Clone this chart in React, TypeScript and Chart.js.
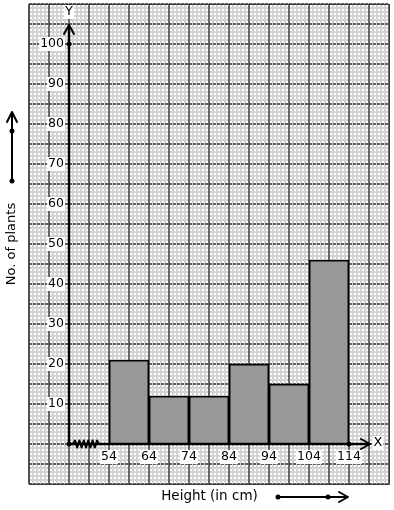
import React, { useEffect, useRef } from "react";
import { Chart, registerables } from "chart.js";

Chart.register(...registerables);

// Class intervals (cm) and frequencies (no. of plants)
const classStarts = [54, 64, 74, 84, 94, 104];
const classWidth = 10;
const frequencies = [21, 12, 12, 20, 15, 46];
const xTickLabels = [54, 64, 74, 84, 94, 104, 114];
const yTickLabels = [10, 20, 30, 40, 50, 60, 70, 80, 90, 100];
const xTitle = "Height (in cm)";
const yTitle = "No. of plants";

const FONT = "DejaVu Sans, sans-serif";

const paperPlugin = {
  id: "paper",
  beforeDraw(chart: any) {
    const ctx = chart.ctx;
    const { left, right, top, bottom } = chart.chartArea;
    ctx.save();
    ctx.fillStyle = "#ffffff";
    ctx.fillRect(0, 0, chart.width, chart.height);
    // minor grid
    ctx.fillStyle = "#d2d2d2";
    for (let x = left; x <= right + 0.1; x += 4) {
      ctx.fillRect(Math.round(x) - 1, top, 2, bottom - top);
    }
    for (let y = top; y <= bottom + 0.1; y += 4) {
      ctx.fillRect(left, Math.round(y) - 1, right - left, 2);
    }
    // major vertical lines (solid)
    ctx.strokeStyle = "#3a3a3a";
    ctx.lineWidth = 1.4;
    for (let x = left; x <= right + 0.1; x += 20) {
      ctx.beginPath();
      ctx.moveTo(Math.round(x), top);
      ctx.lineTo(Math.round(x), bottom);
      ctx.stroke();
    }
    // major horizontal lines (dashed)
    ctx.setLineDash([3, 1]);
    for (let y = top; y <= bottom + 0.1; y += 20) {
      ctx.beginPath();
      ctx.moveTo(left, Math.round(y));
      ctx.lineTo(right, Math.round(y));
      ctx.stroke();
    }
    ctx.setLineDash([]);
    ctx.restore();
  },
  afterDatasetsDraw(chart: any) {
    const ctx = chart.ctx;
    const xs = chart.scales.x;
    const ys = chart.scales.y;
    const ox = xs.getPixelForValue(44);
    const oy = ys.getPixelForValue(0);
    ctx.save();
    ctx.strokeStyle = "#000";
    ctx.fillStyle = "#000";
    ctx.lineCap = "round";
    ctx.lineJoin = "round";
    // Y axis
    ctx.lineWidth = 2.5;
    ctx.beginPath();
    ctx.moveTo(ox, oy);
    ctx.lineTo(ox, 26);
    ctx.stroke();
    ctx.lineWidth = 2;
    ctx.beginPath();
    ctx.moveTo(ox - 5, 34);
    ctx.lineTo(ox, 25);
    ctx.lineTo(ox + 5, 34);
    ctx.stroke();
    // X axis
    ctx.lineWidth = 2.5;
    ctx.beginPath();
    ctx.moveTo(ox, oy);
    ctx.lineTo(369, oy);
    ctx.stroke();
    ctx.lineWidth = 2;
    ctx.beginPath();
    ctx.moveTo(361, oy - 5);
    ctx.lineTo(370, oy);
    ctx.lineTo(361, oy + 5);
    ctx.stroke();
    // zigzag (break) on x axis
    ctx.lineWidth = 2;
    ctx.beginPath();
    ctx.moveTo(73, oy);
    let up = true;
    for (let x = 75; x <= 99; x += 2.2) {
      ctx.lineTo(x, oy + (up ? -3.5 : 3.5));
      up = !up;
    }
    ctx.lineTo(99, oy);
    ctx.stroke();
    // dots
    const dot = (x: number, y: number) => {
      ctx.beginPath();
      ctx.arc(x, y, 2.5, 0, Math.PI * 2);
      ctx.fill();
    };
    dot(ox, oy);
    dot(ox, ys.getPixelForValue(100));
    dot(xs.getPixelForValue(114), oy);

    // tick labels
    ctx.font = `12.5px ${FONT}`;
    ctx.textBaseline = "middle";
    for (const v of yTickLabels) {
      const y = ys.getPixelForValue(v);
      const t = String(v);
      const w = ctx.measureText(t).width;
      ctx.fillStyle = "#fff";
      ctx.fillRect(64 - w - 1, y - 7, w + 2, 14);
      ctx.fillStyle = "#000";
      ctx.textAlign = "right";
      ctx.fillText(t, 64, y);
    }
    for (const v of xTickLabels) {
      const x = xs.getPixelForValue(v);
      const t = String(v);
      const w = ctx.measureText(t).width;
      ctx.fillStyle = "#fff";
      ctx.fillRect(x - w / 2 - 1, 450, w + 2, 14);
      ctx.fillStyle = "#000";
      ctx.textAlign = "center";
      ctx.fillText(t, x, 457);
    }
    // axis letters
    ctx.font = `13px ${FONT}`;
    ctx.textAlign = "center";
    for (const [t, x, y] of [["Y", ox, 12], ["X", 378, oy - 1]] as [string, number, number][]) {
      const w = ctx.measureText(t).width;
      ctx.fillStyle = "#fff";
      ctx.fillRect(x - w / 2 - 1, y - 7, w + 2, 14);
      ctx.fillStyle = "#000";
      ctx.fillText(t, x, y);
    }
    // titles
    ctx.font = `13.5px ${FONT}`;
    ctx.fillStyle = "#000";
    ctx.textAlign = "center";
    ctx.fillText(xTitle, 209.5, 496);
    ctx.save();
    ctx.translate(12, 244);
    ctx.rotate(-Math.PI / 2);
    ctx.font = `13px ${FONT}`;
    ctx.fillText(yTitle, 0, 0);
    ctx.restore();

    // direction arrows
    ctx.lineWidth = 2;
    ctx.beginPath();
    ctx.moveTo(278, 497);
    ctx.lineTo(347, 497);
    ctx.stroke();
    ctx.beginPath();
    ctx.moveTo(339, 492);
    ctx.lineTo(348, 497);
    ctx.lineTo(339, 502);
    ctx.stroke();
    dot(278, 497);
    dot(328, 497);

    ctx.beginPath();
    ctx.moveTo(12, 181);
    ctx.lineTo(12, 113);
    ctx.stroke();
    ctx.beginPath();
    ctx.moveTo(7, 122);
    ctx.lineTo(12, 112);
    ctx.lineTo(17, 122);
    ctx.stroke();
    dot(12, 181);
    dot(12, 131);

    // paper border
    const { left, right, top, bottom } = chart.chartArea;
    ctx.strokeStyle = "#3a3a3a";
    ctx.lineWidth = 1;
    ctx.strokeRect(left + 0.5, top + 0.5, right - left, bottom - top);
    ctx.restore();
  },
};

export default function App() {
  const ref = useRef<HTMLCanvasElement>(null);
  useEffect(() => {
    document.body.style.margin = "0";
    const canvas = ref.current!;
    const chart = new Chart(canvas, {
      type: "bar",
      data: {
        datasets: [
          {
            data: classStarts.map((s, i) => ({ x: s + classWidth / 2, y: frequencies[i] })),
            backgroundColor: "#999999",
            borderColor: "#000000",
            borderWidth: 1.8,
            barPercentage: 1,
            categoryPercentage: 1,
          },
        ],
      },
      options: {
        responsive: false,
        animation: false,
        devicePixelRatio: 1,
        layout: { padding: { left: 29, top: 4, right: 5, bottom: 26 } },
        plugins: { legend: { display: false }, tooltip: { enabled: false } },
        scales: {
          x: {
            type: "linear",
            min: 34,
            max: 124,
            display: false,
            offset: false,
            afterBuildTicks: (scale: any) => {
              scale.ticks = xTickLabels.map((v) => ({ value: v }));
            },
          },
          y: { type: "linear", min: -10, max: 110, display: false },
        },
      },
      plugins: [paperPlugin],
    });
    return () => chart.destroy();
  }, []);
  return <canvas ref={ref} width={394} height={510} style={{ display: "block" }} />;
}
